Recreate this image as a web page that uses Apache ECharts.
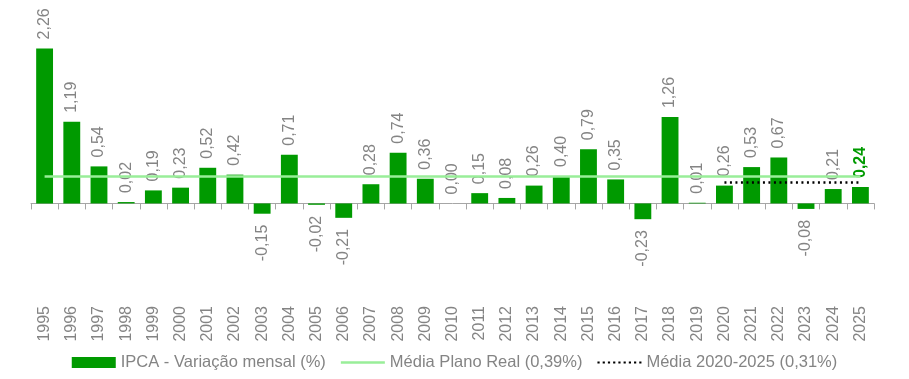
<!DOCTYPE html>
<html><head><meta charset="utf-8">
<script src="https://cdn.jsdelivr.net/npm/echarts@6/dist/echarts.min.js"></script>
<style>html,body{margin:0;padding:0;background:#fff}#c{width:909px;height:379px}</style>
</head><body><div id="c"></div>
<script>
const years = ['1995','1996','1997','1998','1999','2000','2001','2002','2003','2004','2005','2006','2007','2008','2009','2010','2011','2012','2013','2014','2015','2016','2017','2018','2019','2020','2021','2022','2023','2024','2025'];
const ipca = [2.26,1.19,0.54,0.02,0.19,0.23,0.52,0.42,-0.15,0.71,-0.02,-0.21,0.28,0.74,0.36,0.00,0.15,0.08,0.26,0.40,0.79,0.35,-0.23,1.26,0.01,0.26,0.53,0.67,-0.08,0.21,0.24];
const mediaPlanoReal = 0.39;
const media2020 = 0.31;
const media2020Start = '2020';
const legendNames = ['IPCA - Variação mensal (%)','Média Plano Real (0,39%)','Média 2020-2025 (0,31%)'];

const FONT = 'Liberation Sans';
const GRAY = '#848484';
const fmt = v => v.toFixed(2).replace('.', ',');

const barData = ipca.map((v, i) => {
  const neg = v < 0;
  const last = i === ipca.length - 1;
  return {
    value: v,
    label: {
      position: neg ? 'bottom' : 'top',
      align: neg ? 'right' : 'left',
      distance: neg ? 11 : 9,
      color: last ? '#009a00' : GRAY,
      fontWeight: last ? 'bold' : 'normal'
    }
  };
});

const linePath = 'path://M0,0 L44,0 L44,2.5 L0,2.5 Z';
let dots = '';
for (let k = 0; k < 9; k++) { const x = k * 5.25; dots += `M${x},0 L${x+2.2},0 L${x+2.2},2.2 L${x},2.2 Z `; }
const dotPath = 'path://' + dots;

const chart = echarts.init(document.getElementById('c'), null, {renderer:'canvas'});
chart.setOption({
  animation: false,
  textStyle: {fontFamily: FONT},
  grid: {left: 31, right: 35, top: 32, height: 240, containLabel: false, outerBoundsMode: 'none'},
  legend: {
    bottom: 3, left: 'center', itemGap: 15, itemWidth: 44, itemHeight: 11,
    textStyle: {fontFamily: FONT, fontSize: 16.5, color: GRAY},
    data: [
      {name: legendNames[0], icon: 'rect', itemStyle: {color: '#009a00'}},
      {name: legendNames[1], icon: linePath, itemStyle: {color: '#99ee99'}},
      {name: legendNames[2], icon: dotPath, itemStyle: {color: '#000'}}
    ]
  },
  xAxis: {
    type: 'category', data: years, boundaryGap: true,
    axisLine: {lineStyle: {color: '#a6a6a6', width: 1}},
    axisTick: {show: true, length: 6, lineStyle: {color: '#a6a6a6'}},
    axisLabel: {interval: 0, rotate: 90, margin: 34, color: GRAY, fontSize: 16, fontFamily: FONT}
  },
  yAxis: {type: 'value', min: -1, max: 2.5, show: false, splitLine: {show: false}},
  series: [
    {
      name: legendNames[0], type: 'bar', data: barData,
      barCategoryGap: '38%',
      itemStyle: {color: '#009a00'},
      label: {show: true, rotate: 90, verticalAlign: 'middle', fontSize: 16, fontFamily: FONT,
        formatter: p => fmt(p.value)}
    },
    {
      name: legendNames[1], type: 'line', data: [], symbol: 'none',
      itemStyle: {color: '#99ee99'},
      lineStyle: {color: '#99ee99', width: 2.5},
      markLine: {silent: true, symbol: 'none', label: {show: false},
        lineStyle: {color: '#99ee99', width: 2.5, type: 'solid'},
        data: [[{xAxis: years[0], yAxis: mediaPlanoReal}, {xAxis: years[years.length-1], yAxis: mediaPlanoReal}]]}
    },
    {
      name: legendNames[2], type: 'line', data: [], symbol: 'none',
      itemStyle: {color: '#000'},
      lineStyle: {color: '#000', width: 2.5, type: [2, 3]},
      markLine: {silent: true, symbol: 'none', label: {show: false},
        lineStyle: {color: '#000', width: 2.5, type: [2, 3.5]},
        data: [[{xAxis: media2020Start, yAxis: media2020}, {xAxis: years[years.length-1], yAxis: media2020}]]}
    }
  ]
});
</script></body></html>
